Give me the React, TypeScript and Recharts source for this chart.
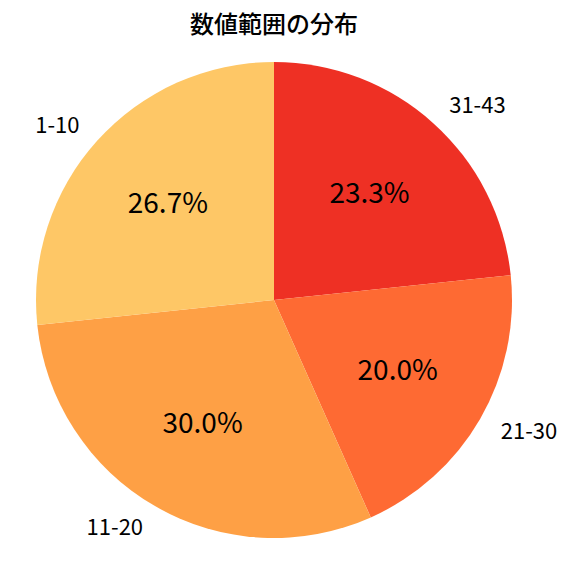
import { PieChart, Pie, Cell } from "recharts";

const categories = ["31-43", "21-30", "11-20", "1-10"];
const counts = [7, 6, 9, 8];
const colors = ["#EE3024", "#FE6A33", "#FEA045", "#FEC766"];

const data = categories.map((name, i) => ({ name, value: counts[i] }));

const RAD = Math.PI / 180;
const FONT = '"Noto Sans CJK JP", "Noto Sans", sans-serif';

function renderLabel(props: any) {
  const { cx, cy, midAngle, outerRadius, percent, name } = props;
  const cos = Math.cos(-midAngle * RAD);
  const sin = Math.sin(-midAngle * RAD);
  const r1 = outerRadius * 1.1;
  const r2 = outerRadius * 0.6;
  return (
    <g>
      <text
        x={cx + r1 * cos}
        y={cy + r1 * sin - 2}
        textAnchor={cos >= 0 ? "start" : "end"}
        dominantBaseline="central"
        fontSize={22}
        fontFamily={FONT}
        fill="#000"
      >
        {name}
      </text>
      <text
        x={cx + r2 * cos}
        y={cy + r2 * sin - 3}
        textAnchor="middle"
        dominantBaseline="central"
        fontSize={28}
        fontFamily={FONT}
        fill="#000"
      >
        {(percent * 100).toFixed(1)}%
      </text>
    </g>
  );
}

export default function App() {
  return (
    <div
      style={{
        position: "absolute",
        left: 0,
        top: 0,
        width: 576,
        height: 576,
        background: "#fff",
      }}
    >
      <div
        style={{
          position: "absolute",
          left: 0,
          width: 548,
          top: 11,
          lineHeight: "24px",
          textAlign: "center",
          fontFamily: FONT,
          fontSize: 24,
          fontWeight: 500,
          color: "#000",
        }}
      >
        数値範囲の分布
      </div>
      <PieChart width={576} height={576} margin={{ top: 0, right: 0, bottom: 0, left: 0 }}>
        <Pie
          data={data}
          dataKey="value"
          nameKey="name"
          cx={274}
          cy={300}
          outerRadius={238}
          startAngle={90}
          endAngle={-270}
          stroke="none"
          labelLine={false}
          label={renderLabel}
          isAnimationActive={false}
        >
          {data.map((d, i) => (
            <Cell key={d.name} fill={colors[i]} />
          ))}
        </Pie>
      </PieChart>
    </div>
  );
}
